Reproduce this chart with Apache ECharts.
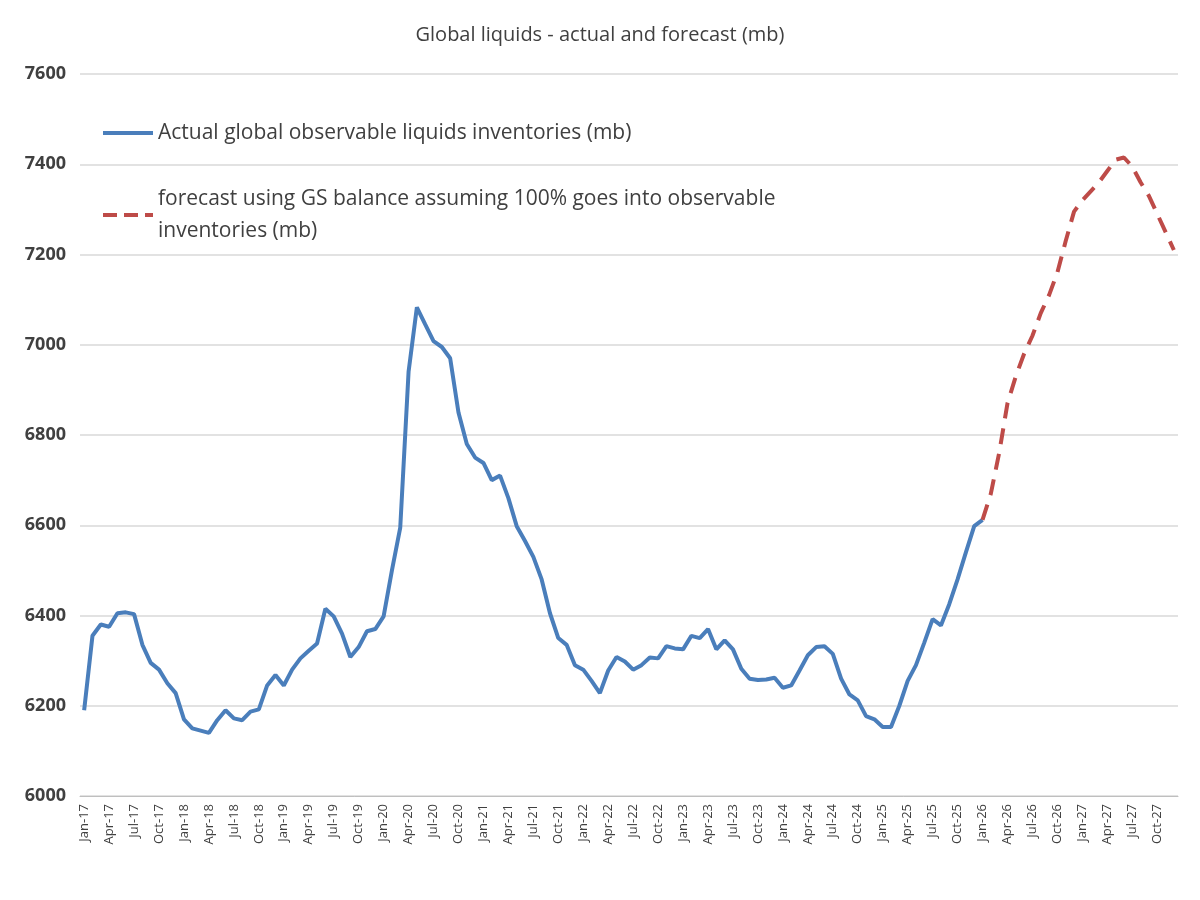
<!DOCTYPE html>
<html lang="en">
<head>
    <meta charset="UTF-8">
    <title>Global liquids - actual and forecast (mb)</title>
    <script src="https://cdn.jsdelivr.net/npm/echarts@6/dist/echarts.min.js"></script>
    <style>
        html, body { margin: 0; padding: 0; background: #fff; }
        #container { width: 1200px; height: 900px; }
    </style>
</head>
<body>
    <div id="container"></div>
    <script>
        var myChart = echarts.init(document.getElementById('container'));

        var mon = ['Jan', 'Feb', 'Mar', 'Apr', 'May', 'Jun', 'Jul', 'Aug', 'Sep', 'Oct', 'Nov', 'Dec'];
        var months = [];
        for (var y = 17; y <= 27; y++) {
            for (var m = 0; m < 12; m++) months.push(mon[m] + '-' + y);
        }

        // actual inventories, Jan-17 .. Jan-26
        var actual = [
            6190, 6355, 6380, 6375, 6405, 6407, 6403, 6335, 6295, 6280, 6250, 6228,
            6170, 6150, 6145, 6140, 6168, 6190, 6172, 6168, 6187, 6192, 6245, 6268,
            6245, 6280, 6305, 6322, 6338, 6415, 6398, 6360, 6308, 6330, 6365, 6370,
            6398, 6500, 6595, 6940, 7083, 7045, 7008, 6995, 6970, 6850, 6780, 6750,
            6738, 6700, 6710, 6660, 6598, 6565, 6530, 6480, 6405, 6350, 6335, 6290,
            6280, 6255, 6228, 6278, 6308, 6298, 6280, 6290, 6307, 6305, 6332, 6327,
            6325, 6355, 6350, 6370, 6325, 6345, 6325, 6282, 6260, 6257, 6258, 6262,
            6240, 6245, 6278, 6312, 6330, 6332, 6315, 6260, 6225, 6212, 6177, 6170,
            6153, 6153, 6200, 6255, 6290, 6340, 6392, 6378, 6425, 6480, 6540, 6598,
            6612
        ];
        // forecast, Jan-26 .. Dec-27
        var forecast = [
            6612, 6670, 6760, 6870, 6930, 6980, 7020, 7070, 7110, 7160, 7230, 7295,
            7320, 7340, 7360, 7385, 7410, 7415, 7395, 7360, 7330, 7290, 7250, 7210
        ];
        var fcData = [];
        for (var i = 0; i < months.length; i++) {
            var k = i - (actual.length - 1);
            fcData.push(k >= 0 ? forecast[k] : null);
        }

        var option = {
            animation: false,
            textStyle: { fontFamily: 'Open Sans, Liberation Sans, sans-serif' },
            title: {
                text: 'Global liquids - actual and forecast (mb)',
                left: 'center',
                top: 20,
                textStyle: { fontSize: 20, fontWeight: 'normal', color: '#404040' }
            },
            legend: {
                orient: 'vertical',
                left: 98,
                top: 112,
                itemWidth: 50,
                itemHeight: 4,
                itemGap: 34,
                textStyle: { fontSize: 21, color: '#404040', lineHeight: 32 },
                formatter: function (name) {
                    return name.replace('observable inventories', 'observable\ninventories');
                },
                data: [
                    { name: 'Actual global observable liquids inventories (mb)', icon: 'path://M0,0H50V4H0Z' },
                    { name: 'forecast using GS balance assuming 100% goes into observable inventories (mb)', icon: 'path://M0,0H14V4H0ZM21,0H35V4H21ZM42,0H50V4H42Z' }
                ]
            },
            grid: { left: 80, right: 22, top: 74, bottom: 104 },
            xAxis: {
                type: 'category',
                data: months,
                boundaryGap: true,
                axisLine: { lineStyle: { color: '#bfbfbf' } },
                axisTick: { show: false },
                axisLabel: {
                    rotate: 90,
                    interval: 2,
                    fontSize: 13,
                    color: '#404040'
                }
            },
            yAxis: {
                type: 'value',
                min: 6000,
                max: 7600,
                interval: 200,
                axisLine: { show: false },
                axisTick: { show: false },
                splitLine: { lineStyle: { color: '#d9d9d9', width: 1.5 } },
                axisLabel: {
                    fontSize: 18, fontWeight: 'bold', color: '#404040', margin: 14,
                    formatter: function (v) { return String(v); }
                }
            },
            series: [{
                name: 'Actual global observable liquids inventories (mb)',
                type: 'line',
                data: actual,
                symbol: 'none',
                lineStyle: { color: '#4a7ebb', width: 4 },
                itemStyle: { color: '#4a7ebb' }
            }, {
                name: 'forecast using GS balance assuming 100% goes into observable inventories (mb)',
                type: 'line',
                data: fcData,
                symbol: 'none',
                lineStyle: { color: '#be4b48', width: 4, type: [16, 10] },
                itemStyle: { color: '#be4b48' }
            }]
        };

        myChart.setOption(option);
    </script>
</body>
</html>
